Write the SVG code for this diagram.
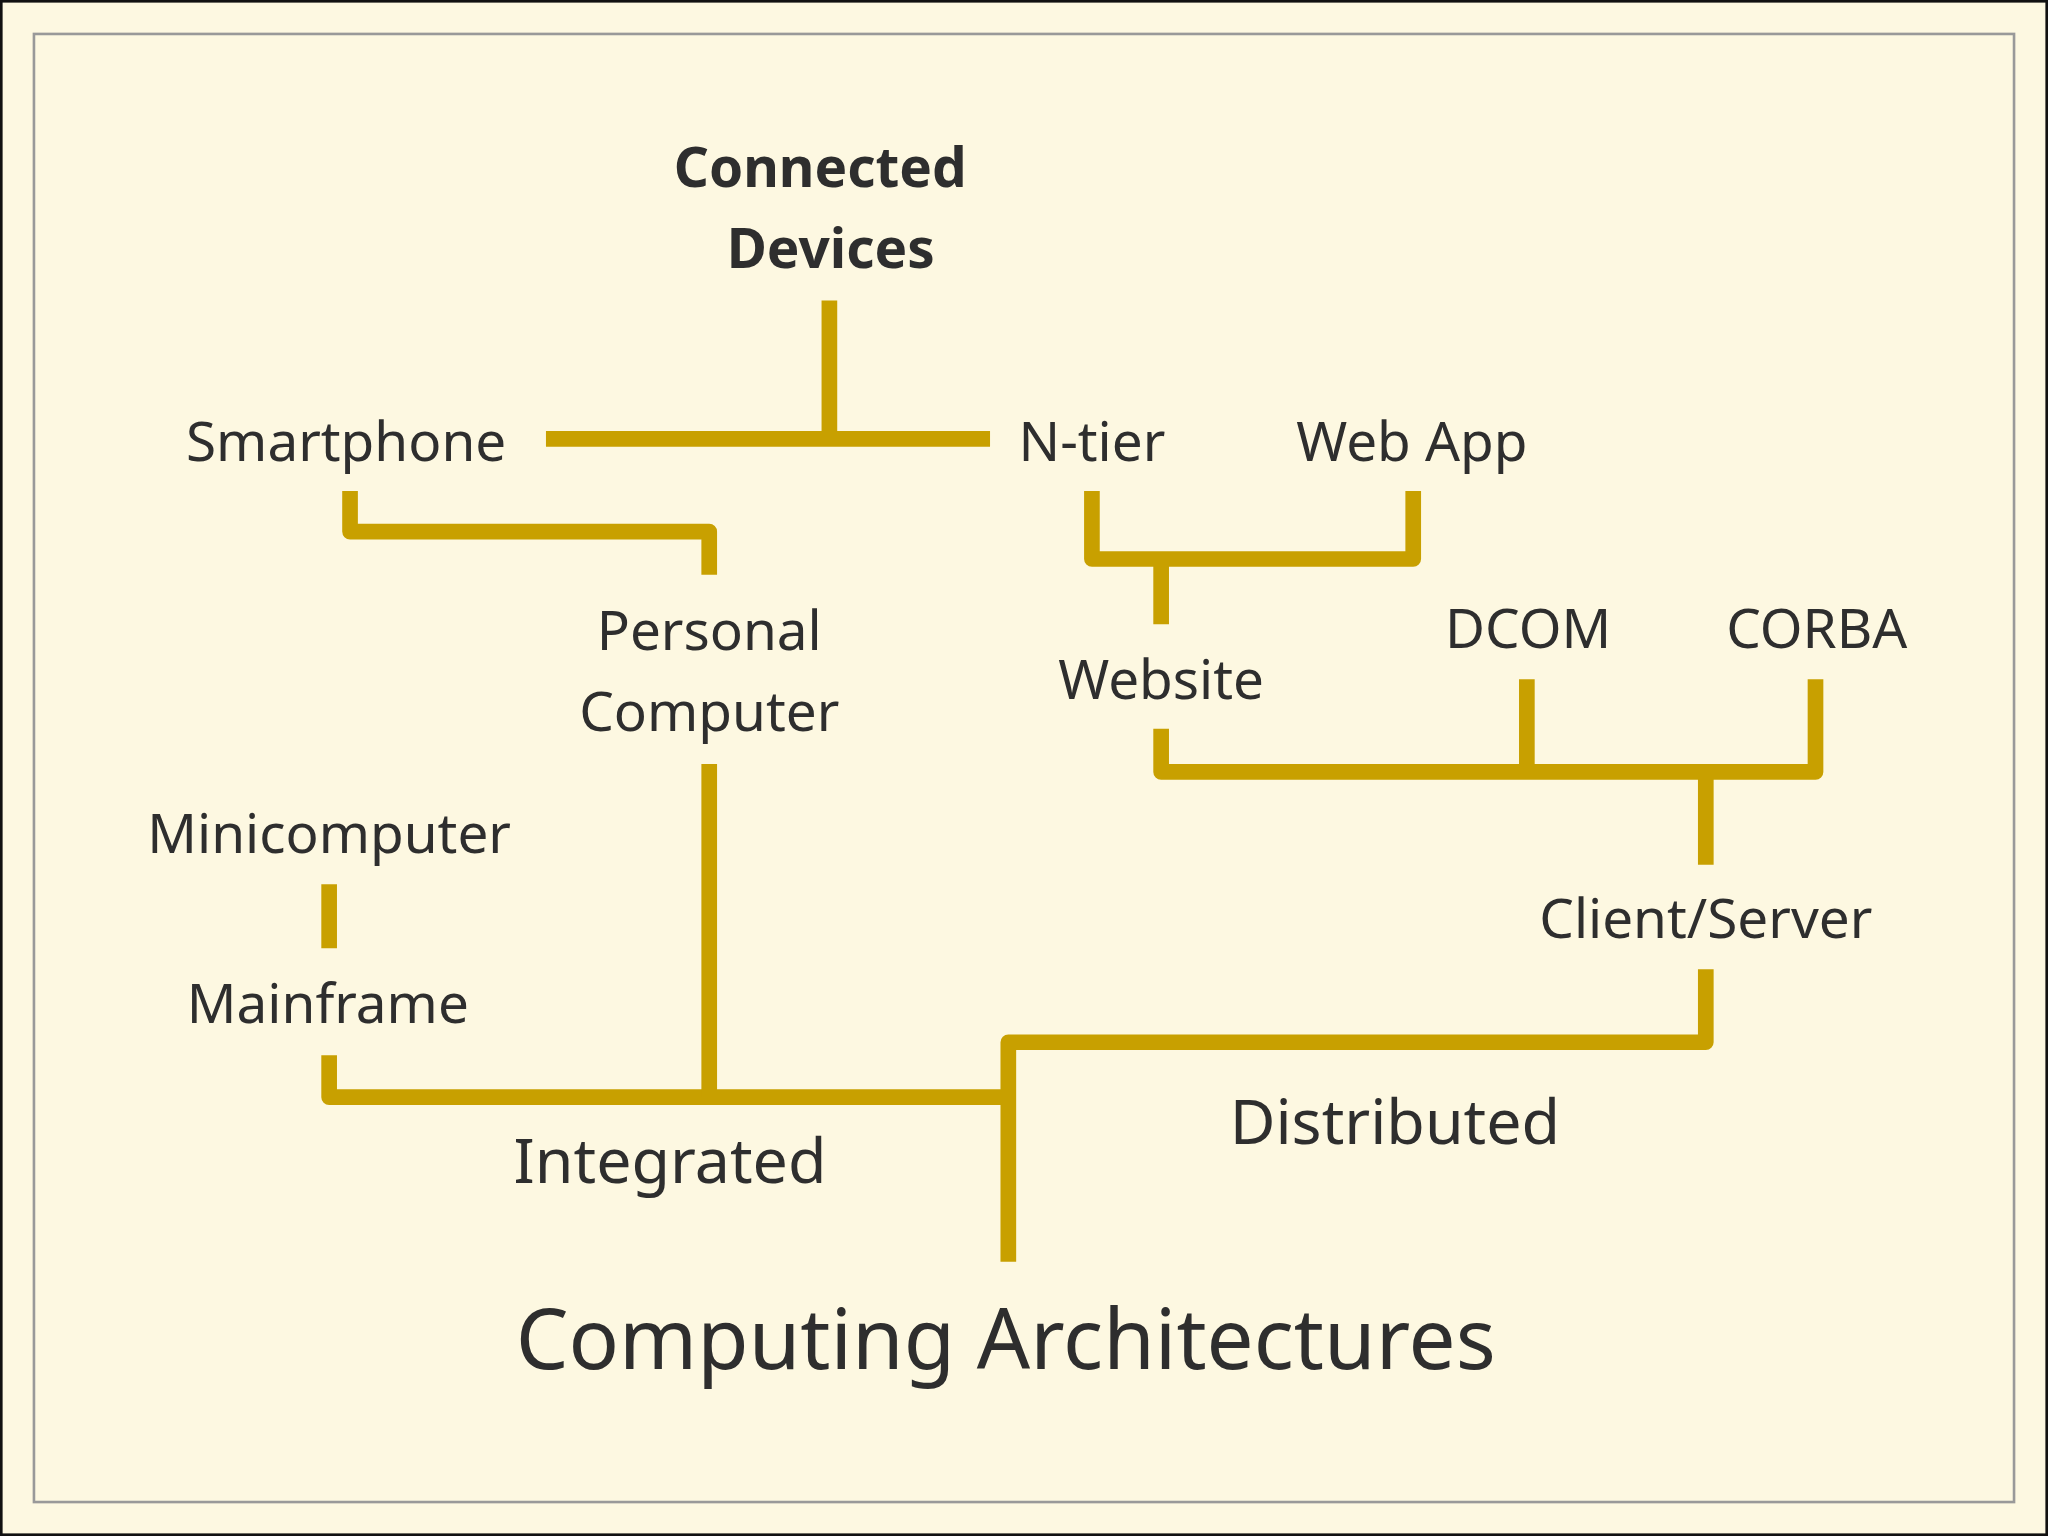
<svg xmlns="http://www.w3.org/2000/svg" width="2048" height="1536" viewBox="0 0 2048 1536">
<style>
.c{fill:none;stroke:#c8a000;stroke-width:12;stroke-linejoin:round}
text{font-family:"Noto Sans","Open Sans",sans-serif;fill:#2e2e2e;text-anchor:middle;font-size:42px}
.b{font-weight:bold}
</style>
<rect x="0" y="0" width="2048" height="1536" fill="#111"/>
<g transform="scale(1.30612)">
<rect x="2" y="2" width="1564" height="1172" fill="#fdf8e1"/>
<rect x="26" y="26" width="1516" height="1124" fill="none" stroke="#999" stroke-width="2"/>
<g id="connectors">
<path class="c" d="M635 230V336M418 336H758"/>
<path class="c" d="M268 376V407H543V440"/>
<path class="c" d="M836 376V428H1082V376M889 428V478"/>
<path class="c" d="M889 558V591H1390V520M1169 520V591M1306 591V662"/>
<path class="c" d="M1306 742V798H772V966"/>
<path class="c" d="M252 808V840H772"/>
<path class="c" d="M543 585V840"/>
<path class="c" d="M252 677V726"/>
</g>
<g id="connected"><text class="b" x="628" y="143">Connected</text><text class="b" x="636" y="205">Devices</text></g>
<g id="smartphone"><text x="265" y="353">Smartphone</text></g>
<g id="ntier"><text x="836" y="353">N-tier</text></g>
<g id="webapp"><text x="1081" y="353">Web App</text></g>
<g id="pc"><text x="543" y="498">Personal</text><text x="543" y="560">Computer</text></g>
<g id="website"><text x="889" y="535">Website</text></g>
<g id="dcom"><text x="1170" y="496">DCOM</text></g>
<g id="corba"><text x="1391" y="496">CORBA</text></g>
<g id="mini"><text x="252" y="653">Minicomputer</text></g>
<g id="cs"><text x="1306" y="718">Client/Server</text></g>
<g id="mainframe"><text x="251" y="783">Mainframe</text></g>
<g id="distributed"><text x="1068" y="876" style="font-size:48px">Distributed</text></g>
<g id="integrated"><text x="513" y="906" style="font-size:48px">Integrated</text></g>
<g id="title"><text x="770" y="1048" style="font-size:64px">Computing Architectures</text></g>
</g>
</svg>
